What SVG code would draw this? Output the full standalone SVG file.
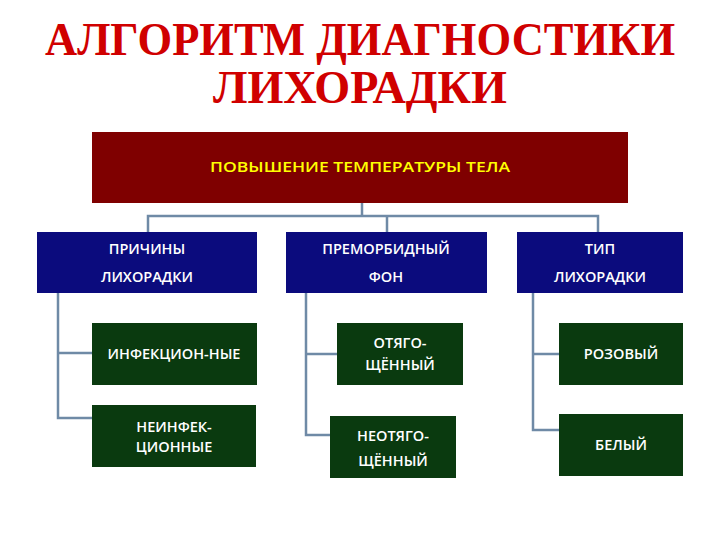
<svg xmlns="http://www.w3.org/2000/svg" width="720" height="540" viewBox="0 0 720 540">
<style>
.t{font-family:"Liberation Serif",serif;font-weight:bold;font-size:46px;fill:#d00000;text-anchor:middle}
.l{font-family:"Open Sans","Liberation Sans",sans-serif;font-weight:600;font-size:14.5px;fill:#fff;text-anchor:middle}
.blue{fill:#0b0b7d}.green{fill:#0a3a0f}
.c{stroke:#6f8aa6;stroke-width:2.5;fill:none}
</style>
<rect width="720" height="540" fill="#fff"/>
<text class="t" x="360" y="55" textLength="630" lengthAdjust="spacingAndGlyphs">АЛГОРИТМ ДИАГНОСТИКИ</text>
<text class="t" x="360" y="103" textLength="294" lengthAdjust="spacingAndGlyphs">ЛИХОРАДКИ</text>
<g id="connectors">
<path class="c" d="M362 203V216M148 232V216H598V232M387 216V232"/>
<path class="c" d="M58 293V418H92M58 353H92"/>
<path class="c" d="M306 293V435H330M306 354H337"/>
<path class="c" d="M533 293V430H559M533 354H559"/>
</g>
<g id="top"><rect x="92" y="132" width="536" height="71" fill="#7f0000"/><text class="l" x="360" y="172" style="fill:#ffff00;font-size:14px" textLength="300" lengthAdjust="spacingAndGlyphs">ПОВЫШЕНИЕ ТЕМПЕРАТУРЫ ТЕЛА</text></g>
<g id="b1"><rect class="blue" x="37" y="232" width="220" height="61"/><text class="l" x="147" y="254">ПРИЧИНЫ</text><text class="l" x="147" y="282">ЛИХОРАДКИ</text></g>
<g id="b2"><rect class="blue" x="286" y="232" width="201" height="61"/><text class="l" x="386" y="254">ПРЕМОРБИДНЫЙ</text><text class="l" x="386" y="282">ФОН</text></g>
<g id="b3"><rect class="blue" x="517" y="232" width="166" height="61"/><text class="l" x="600" y="254">ТИП</text><text class="l" x="600" y="282">ЛИХОРАДКИ</text></g>
<g id="g1"><rect class="green" x="92" y="323" width="165" height="62"/><text class="l" x="174" y="359">ИНФЕКЦИОН-НЫЕ</text></g>
<g id="g2"><rect class="green" x="92" y="405" width="164" height="62"/><text class="l" x="174" y="432">НЕИНФЕК-</text><text class="l" x="174" y="452">ЦИОННЫЕ</text></g>
<g id="g3"><rect class="green" x="337" y="323" width="126" height="62"/><text class="l" x="400" y="348">ОТЯГО-</text><text class="l" x="400" y="370">ЩЁННЫЙ</text></g>
<g id="g4"><rect class="green" x="330" y="416" width="126" height="62"/><text class="l" x="393" y="441">НЕОТЯГО-</text><text class="l" x="393" y="466">ЩЁННЫЙ</text></g>
<g id="g5"><rect class="green" x="559" y="323" width="124" height="62"/><text class="l" x="621" y="359">РОЗОВЫЙ</text></g>
<g id="g6"><rect class="green" x="559" y="414" width="124" height="62"/><text class="l" x="621" y="450">БЕЛЫЙ</text></g>
</svg>
